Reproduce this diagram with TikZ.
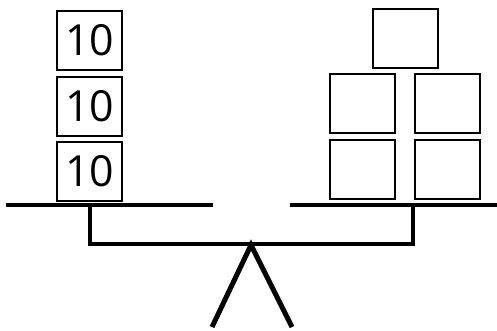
\documentclass[tikz,border=0pt]{standalone}
\usepackage{fontspec}
\setmainfont{Open Sans}
\begin{document}
\begin{tikzpicture}[x=1bp,y=-1bp,
  blk/.style={draw=black,line width=2bp,minimum width=65bp,minimum height=59bp,inner sep=0pt,font=\fontsize{43}{43}\selectfont},
  bar/.style={line width=4bp},
  leg/.style={line width=5bp}]
\useasboundingbox (0,0) rectangle (497,330);
% left blocks
\node[blk] (l1) at (89.5,40.5) {10};
\node[blk] (l2) at (89.5,106) {10};
\node[blk] (l3) at (89.5,171) {10};
% right blocks
\node[blk] (rt) at (405,38) {};
\node[blk] (rm1) at (362,103.5) {};
\node[blk] (rm2) at (447.5,103.5) {};
\node[blk] (rb1) at (362,169.5) {};
\node[blk] (rb2) at (447.5,169.5) {};
% pans
\coordinate (pl1) at (6,205);
\coordinate (pl2) at (213,205);
\coordinate (pr1) at (290,205);
\coordinate (pr2) at (497,205);
\draw[bar] (pl1) -- (pl2);
\draw[bar] (pr1) -- (pr2);
% beam
\coordinate (sl) at (89.5,205);
\coordinate (sr) at (413,205);
\draw[bar] (sl) |- (251,243.5) -| (sr);
% fulcrum
\coordinate (apex) at (251,245);
\coordinate (f1) at (212,327);
\coordinate (f2) at (292,327);
\draw[leg] (f1) -- (apex) -- (f2);
\end{tikzpicture}
\end{document}
